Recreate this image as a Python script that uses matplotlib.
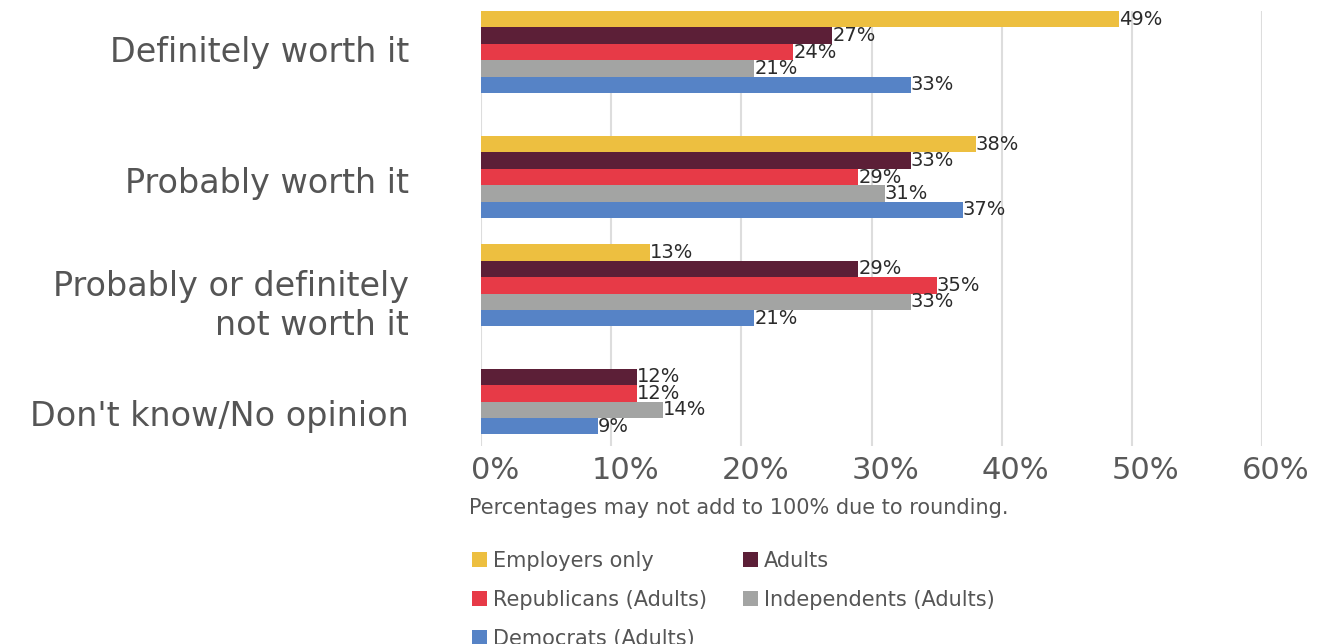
import numpy as np
from matplotlib import pyplot as plt
import matplotlib.transforms as mtransforms
from matplotlib.patches import Patch

categories = ["Definitely worth it", "Probably worth it",
              "Probably or definitely\nnot worth it", "Don't know/No opinion"]
series = ["Employers only", "Adults", "Republicans (Adults)",
          "Independents (Adults)", "Democrats (Adults)"]
employers    = [49, 38, 13, None]
adults       = [27, 33, 29, 12]
republicans  = [24, 29, 35, 12]
independents = [21, 31, 33, 14]
democrats    = [33, 37, 21, 9]
xticks = [0, 10, 20, 30, 40, 50, 60]

colors = ['#EDBF40', '#5C1F37', '#E73A47', '#A3A4A3', '#5683C6']

# layout in bar-slot units (one slot = one bar thickness), top to bottom
group_top = [0.0, 7.62, 14.21, 20.79]
label_pos = [2.32, 10.3, 17.6, 24.5]
y_extent = 26.5

plt.rcParams['font.family'] = ['DejaVu Sans']

fig = plt.figure(figsize=(13.27, 6.44), dpi=100)
ax = fig.add_axes([481/1327, 1 - 446/644, 781/1327, 435/644])

data = [employers, adults, republicans, independents, democrats]
for k, (vals, col) in enumerate(zip(data, colors)):
    ys = np.array(group_top) + k + 0.5
    v = np.array([np.nan if x is None else x for x in vals], dtype=float)
    bars = ax.barh(ys, v, height=1.0, color=col, zorder=3)
    labs = ['' if x is None else '%d%%' % x for x in vals]
    ax.bar_label(bars, labels=labs, padding=0, fontsize=14, color='#2b2b2b')

ax.set_xlim(0, 60)
ax.set_ylim(y_extent, 0)
ax.set_xticks(xticks)
ax.set_xticklabels(['%d%%' % t for t in xticks], fontsize=22, color='#595959')
ax.set_yticks(label_pos)
ax.set_yticklabels(categories, fontsize=24, color='#555555', linespacing=1.2)
ax.tick_params(axis='y', length=0, pad=52)
ax.tick_params(axis='x', length=0, pad=7)
ax.grid(axis='x', color='#DDDDDD', linewidth=1.5, zorder=0)
for s in ax.spines.values():
    s.set_visible(False)

# tick labels sit a little right of their gridlines
shift = mtransforms.ScaledTranslation(14/100, 0, fig.dpi_scale_trans)
for lab in ax.get_xticklabels():
    lab.set_transform(lab.get_transform() + shift)

fig.text(469/1327, 1 - 514/644, 'Percentages may not add to 100% due to rounding.',
         fontsize=15, color='#555555', va='baseline')

handles = [Patch(facecolor=c, edgecolor='none') for c in colors]
order = [0, 2, 4, 1, 3]
fig.legend([handles[i] for i in order], [series[i] for i in order],
           ncol=2, loc='upper left', bbox_to_anchor=(472/1327, 1 - 551/644),
           frameon=False, fontsize=15, labelcolor='#555555',
           handlelength=0.7, handleheight=0.7, handletextpad=0.3,
           columnspacing=1.75, labelspacing=0.9, borderaxespad=0, borderpad=0)

plt.savefig('out.png', dpi=100)
plt.close(fig)
